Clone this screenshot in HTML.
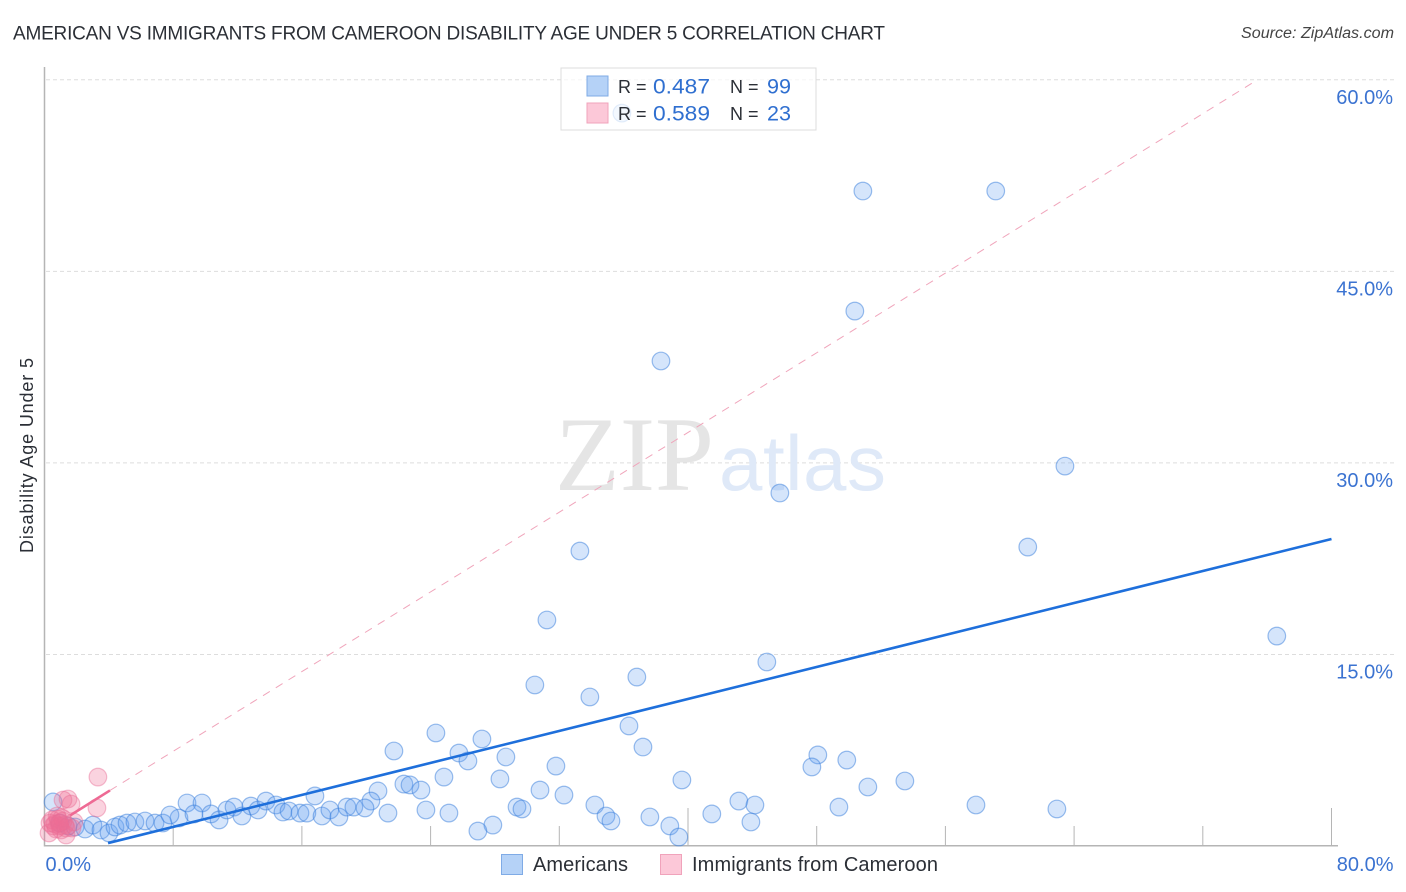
<!DOCTYPE html>
<html lang="en">
<head>
<meta charset="utf-8">
<title>American vs Immigrants from Cameroon Disability Age Under 5 Correlation Chart</title>
<style>
html,body{margin:0;padding:0;background:#fff;}
svg{display:block;font-family:"Liberation Sans",sans-serif;}
</style>
</head>
<body>
<svg id="chart" xmlns="http://www.w3.org/2000/svg" width="1406" height="892" viewBox="0 0 1406 892">
  <rect x="0" y="0" width="1406" height="892" fill="#fff"/>
  <text x="13" y="39.5" font-size="19" fill="#2b2f36" textLength="872">AMERICAN VS IMMIGRANTS FROM CAMEROON DISABILITY AGE UNDER 5 CORRELATION CHART</text>
  <text x="1241" y="38" font-size="15.5" font-style="italic" fill="#444" textLength="153" lengthAdjust="spacingAndGlyphs">Source: ZipAtlas.com</text>
  <text transform="translate(33,553) rotate(-90)" x="0" y="0" font-size="18" fill="#2b2f36" textLength="195">Disability Age Under 5</text>
  <g id="grid"></g>
  <g id="watermark">
    <text x="555" y="490" font-family="'Liberation Serif',serif" font-size="106" fill="#e5e5e5">ZIP</text>
    <text x="719" y="490" font-size="78" fill="#dfe9f8" textLength="167">atlas</text>
  </g>
  <g id="axes"></g>
  <g id="refline"></g>
  <g id="blue-points"></g>
  <g id="pink-points"></g>
  <g id="trends"></g>
  <g id="tick-labels"></g>

  <g>
    <rect x="561" y="68" width="255" height="62" fill="#fff" fill-opacity="0.72" stroke="#dcdcdc" stroke-width="1"/>
    <rect x="587" y="76" width="21" height="20" fill="#b5d2f7" stroke="#7fabe6" stroke-width="1"/>
    <rect x="587" y="103" width="21" height="20" fill="#fcc8d8" stroke="#f0a3bb" stroke-width="1"/>
    <text x="618" y="93" font-size="18" fill="#2b2f36">R =</text>
    <text x="653" y="93.5" font-size="21" fill="#2f6fd0" textLength="57" lengthAdjust="spacingAndGlyphs">0.487</text>
    <text x="730" y="93" font-size="18" fill="#2b2f36">N =</text>
    <text x="767" y="93.5" font-size="21" fill="#2f6fd0" textLength="24" lengthAdjust="spacingAndGlyphs">99</text>
    <text x="618" y="120" font-size="18" fill="#2b2f36">R =</text>
    <text x="653" y="120.5" font-size="21" fill="#2f6fd0" textLength="57" lengthAdjust="spacingAndGlyphs">0.589</text>
    <text x="730" y="120" font-size="18" fill="#2b2f36">N =</text>
    <text x="767" y="120.5" font-size="21" fill="#2f6fd0" textLength="24" lengthAdjust="spacingAndGlyphs">23</text>
  </g>

  <g>
    <rect x="501.5" y="854.5" width="21" height="20" fill="#b5d2f7" stroke="#7fabe6" stroke-width="1"/>
    <text x="533" y="871" font-size="20" fill="#2b2f36" textLength="95">Americans</text>
    <rect x="660.5" y="854.5" width="21" height="20" fill="#fcc8d8" stroke="#f0a3bb" stroke-width="1"/>
    <text x="692" y="871" font-size="20" fill="#2b2f36" textLength="246">Immigrants from Cameroon</text>
  </g>
</svg>
<script>
// Data values: x = percent of immigrants, y = disability rate (percent)
const blueX = [50.87,59.13,50.37,38.32,63.43,45.71,61.12,33.28,31.23,76.6,44.9,30.48,36.82,33.9,36.33,24.33,27.19,37.2,21.72,25.76,26.32,28.68,48.07,49.87,47.7,31.79,39.62,53.48,24.83,28.31,51.18,22.34,22.72,23.4,20.73,30.8,32.29,16.81,43.16,44.16,57.9,62.93,49.38,34.21,29.37,29.68,23.71,25.14,34.9,35.21,41.48,37.63,43.91,38.87,39.43,27.87,26.94,21.35,20.29,35.89,
  8.86,9.79,8.36,9.29,10.35,10.85,11.34,11.78,12.27,12.83,13.27,13.77,14.39,14.82,15.2,15.88,16.31,17.25,17.74,18.3,18.8,19.23,19.92,
  0.53,0.96,1.46,1.9,2.52,3.01,3.51,4.01,4.38,4.69,5.13,5.62,6.25,6.87,7.36,7.8];
const blueY = [51.29,51.29,41.89,37.98,29.75,27.64,23.41,23.1,17.7,16.44,14.41,12.61,13.23,11.67,9.4,8.85,8.38,7.75,7.44,7.28,6.66,6.97,7.13,6.73,6.19,6.26,5.17,5.09,5.4,5.25,4.62,4.85,4.78,4.38,4.31,4.38,3.99,3.92,3.52,3.21,3.21,2.9,3.05,3.21,3.05,2.9,2.82,2.58,2.35,1.96,2.51,2.27,1.88,1.57,0.7,1.64,1.17,2.58,3.52,57.39,
  3.37,3.37,2.19,2.51,2.51,2.04,2.82,3.05,2.35,3.13,2.82,3.52,3.21,2.66,2.74,2.58,2.58,2.35,2.82,2.27,3.05,3.05,2.98,
  3.45,1.8,1.57,1.49,1.33,1.64,1.25,1.02,1.49,1.64,1.8,1.88,1.96,1.8,1.8,2.43];
const pinkX = [3.32,3.26,1.15,1.46,1.65,0.47,0.65,0.84,0.96,1.15,0.71,1.03,1.27,0.53,0.9,1.34,0.78,1.09,0.34,0.28,1.34,1.71,1.83];
const pinkY = [5.4,2.98,3.6,3.68,3.29,2.04,1.72,2.11,1.57,1.96,1.33,1.25,1.64,1.57,1.8,1.41,2.35,2.19,1.8,1.02,0.86,1.41,1.88];
const blueTrendX = [3.95,80];
const blueTrendY = [0.23,24.04];
const pinkTrendX = [1.6,4.07];
const pinkTrendY = [2.4,4.35];
const pinkDashX = [4.07,75.4];
const pinkDashY = [4.35,60];
const yTicks = [15,30,45,60];
const yTickLabels = ["15.0%","30.0%","45.0%","60.0%"];
const xTicks = [8,16,24,32,40,48,56,64,72,80];
const xMajorTicks = [40,80];
const xEndValues = [0,80];
const xEndLabels = ["0.0%","80.0%"];

const NS = "http://www.w3.org/2000/svg";
function xScale(v){ return 44.5 + v * 16.0875; }
function yScale(v){ return 846 - v * 12.77; }
function mk(parent, tag, attrs){
  const el = document.createElementNS(NS, tag);
  for (const k in attrs) el.setAttribute(k, attrs[k]);
  document.getElementById(parent).appendChild(el);
  return el;
}

yTicks.forEach(function(t, i){
  const g = mk("grid", "line", {x1:46, x2:1394, y1:yScale(t), y2:yScale(t), stroke:"#dddddd", "stroke-width":1, "stroke-dasharray":"4 3"});
  
  
  const lab = mk("tick-labels", "text", {x:1393, y:yScale(t) + 24, "text-anchor":"end", "font-size":20, fill:"#3b73d1"});
  lab.textContent = yTickLabels[i];
  
  
});

const yAxis = mk("axes", "line", {x1:44.5, x2:44.5, y1:67, y2:846.5, stroke:"#b5b5b5", "stroke-width":1.5});


const xAxis = mk("axes", "line", {x1:44, x2:1338, y1:845.8, y2:845.8, stroke:"#b5b5b5", "stroke-width":1.5});


xTicks.forEach(function(t){
  const top = xMajorTicks.indexOf(t) >= 0 ? 808 : 826;
  const tick = mk("axes", "line", {x1:xScale(t), x2:xScale(t), y1:top, y2:846, stroke:"#b5b5b5", "stroke-width":1});
  
  
});
xEndValues.forEach(function(v, i){
  const lab = mk("tick-labels", "text", {
    x: i === 0 ? xScale(v) + 1 : xScale(v) + 62,
    y: 871,
    "text-anchor": i === 0 ? "start" : "end",
    "font-size": 20,
    fill: "#3b73d1"
  });
  lab.textContent = xEndLabels[i];
  
  
});

const dash = mk("refline", "line", {x1:xScale(pinkDashX[0]), y1:yScale(pinkDashY[0]), x2:xScale(pinkDashX[1]), y2:yScale(pinkDashY[1]), stroke:"#f0a5bb", "stroke-width":1, "stroke-dasharray":"8 7"});



blueX.forEach(function(x, i){
  const c = mk("blue-points", "circle", {cx:xScale(x), cy:yScale(blueY[i]), r:8.8, fill:"rgba(100,160,240,0.27)", stroke:"rgba(55,125,220,0.5)", "stroke-width":1.2});
  
  
});
pinkX.forEach(function(x, i){
  const c = mk("pink-points", "circle", {cx:xScale(x), cy:yScale(pinkY[i]), r:8.8, fill:"rgba(240,110,150,0.3)", stroke:"rgba(232,110,150,0.45)", "stroke-width":1.2});
  
  
});

const blueTrend = mk("trends", "line", {x1:xScale(blueTrendX[0]), y1:yScale(blueTrendY[0]), x2:xScale(blueTrendX[1]), y2:yScale(blueTrendY[1]), stroke:"#1e6fdb", "stroke-width":2.6});


const pinkTrend = mk("trends", "line", {x1:xScale(pinkTrendX[0]), y1:yScale(pinkTrendY[0]), x2:xScale(pinkTrendX[1]), y2:yScale(pinkTrendY[1]), stroke:"#ee6a94", "stroke-width":2.6});


</script>
</body>
</html>
